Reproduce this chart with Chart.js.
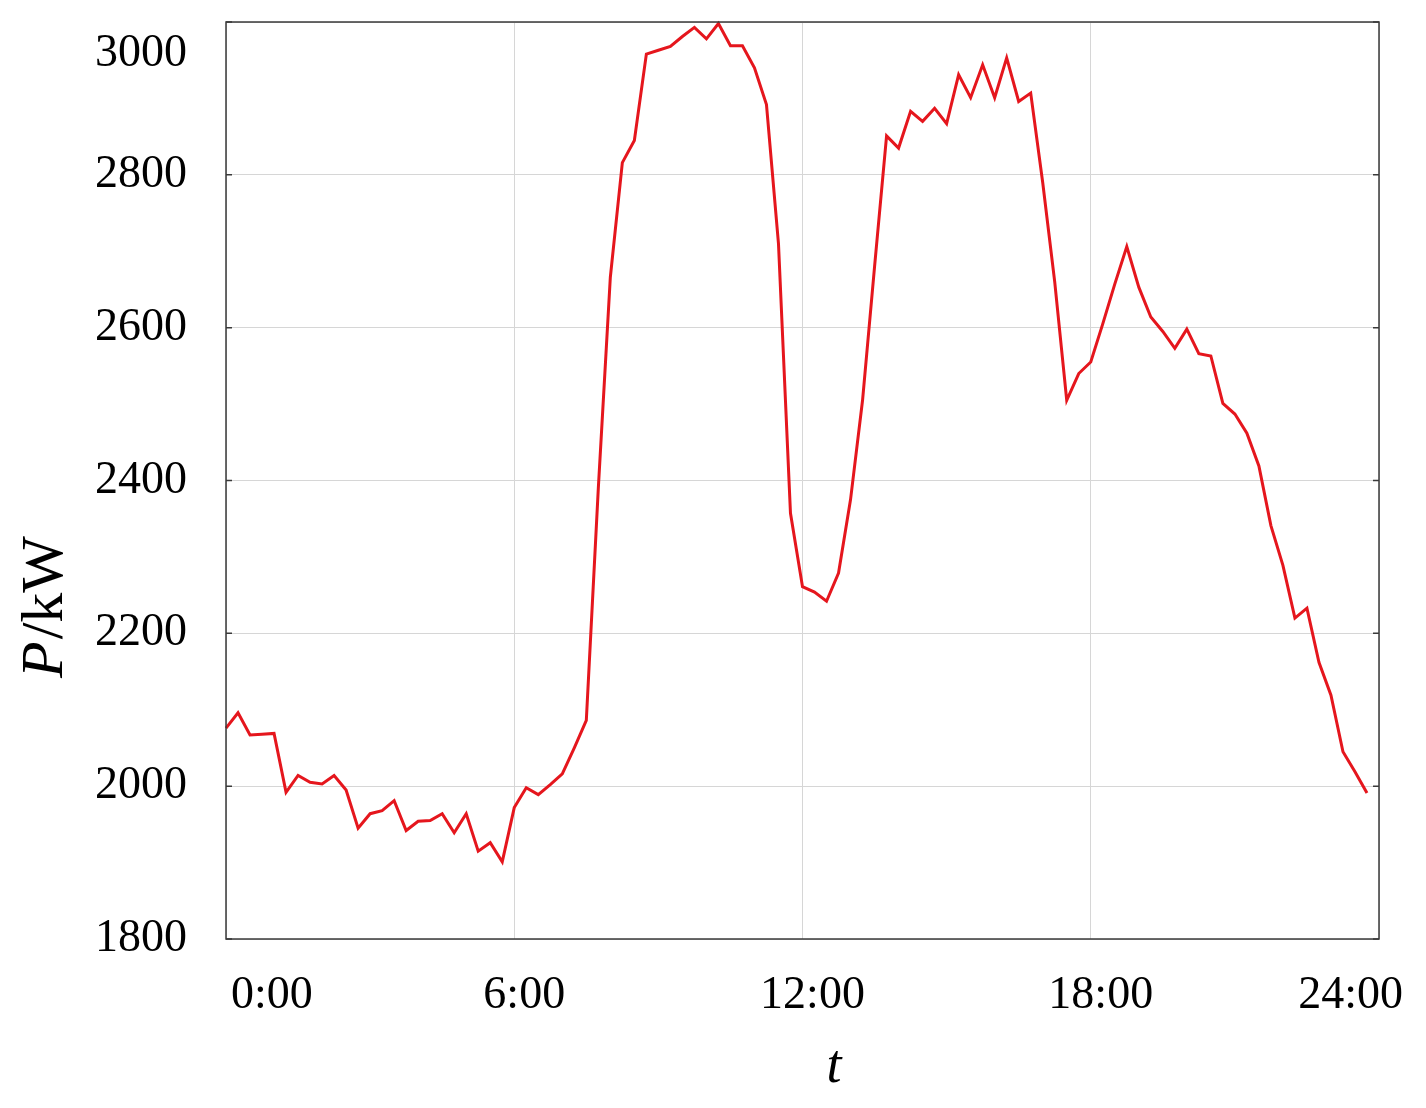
<!DOCTYPE html>
<html>
<head>
<meta charset="utf-8">
<script src="https://cdn.jsdelivr.net/npm/chart.js@4.4.1/dist/chart.umd.min.js"></script>
<style>
  html, body { margin: 0; padding: 0; background: #ffffff; }
  #wrap { position: relative; width: 1426px; height: 1108px; }
</style>
</head>
<body>
<div id="wrap"><canvas id="c"></canvas></div>
<script>
// ---- data (15-minute load samples, kW) ----
const loadKW = [
  2076, 2096, 2067, 2068, 2069, 1992, 2014, 2005, 2003, 2014, 1995, 1945,
  1964, 1968, 1981, 1942, 1954, 1955, 1964, 1939, 1964, 1915, 1926, 1901,
  1972, 1998, 1989, 2002, 2016, 2050, 2086, 2390, 2666, 2816, 2845, 2958,
  2963, 2968, 2981, 2993, 2978, 2998, 2969, 2969, 2940, 2892, 2710, 2357,
  2261, 2254, 2242, 2279, 2375, 2505, 2680, 2851, 2835, 2883, 2870, 2887,
  2867, 2931, 2901, 2944, 2901, 2953, 2896, 2907, 2790, 2660, 2505, 2540,
  2555, 2605, 2657, 2706, 2653, 2614, 2595, 2573, 2598, 2566, 2563, 2501,
  2487, 2462, 2419, 2341, 2289, 2220, 2233, 2162, 2119, 2045, 2019, 1991
];
// categories: 0:00 ... 24:00 every 15 minutes
const timeLabels = [];
for (let m = 0; m <= 24 * 60; m += 15) {
  timeLabels.push(Math.floor(m / 60) + ':' + String(m % 60).padStart(2, '0'));
}
const xTickLabels = ['0:00', '6:00', '12:00', '18:00', '24:00'];
const yTickValues = [1800, 2000, 2200, 2400, 2600, 2800, 3000];
const xTitle = 't';
const yTitleItalic = 'P';
const yTitleRest = '/kW';

const SERIF = '"Liberation Serif", "DejaVu Serif", serif';

const decorPlugin = {
  id: 'decor',
  afterDraw(chart) {
    const ctx = chart.ctx;
    const a = chart.chartArea;
    const xs = chart.scales.x;
    const ys = chart.scales.y;
    ctx.save();
    // frame
    ctx.strokeStyle = '#3a3a3a';
    ctx.lineWidth = 1.5;
    ctx.strokeRect(a.left, a.top, a.right - a.left, a.bottom - a.top);
    // inner tick marks on left and right axes
    yTickValues.forEach(v => {
      const py = ys.getPixelForValue(v);
      ctx.beginPath();
      ctx.moveTo(a.left, py); ctx.lineTo(a.left + 6, py);
      ctx.moveTo(a.right, py); ctx.lineTo(a.right - 6, py);
      ctx.stroke();
    });
    // y tick labels
    ctx.fillStyle = '#000';
    ctx.font = '46px ' + SERIF;
    ctx.textAlign = 'right';
    ctx.textBaseline = 'middle';
    yTickValues.forEach(v => {
      let py = ys.getPixelForValue(v);
      if (py < a.top + 32) py = a.top + 32;
      ctx.fillText(String(v), a.left - 39, py);
    });
    // x tick labels
    ctx.font = '46px ' + SERIF;
    ctx.textAlign = 'left';
    ctx.textBaseline = 'middle';
    xTickLabels.forEach(lbl => {
      const px = xs.getPixelForValue(timeLabels.indexOf(lbl));
      const w = ctx.measureText(lbl).width;
      let left = px + 10 - w / 2;
      if (left < a.left + 5) left = a.left + 5;
      if (left + w > a.right + 24) left = a.right + 24 - w;
      ctx.fillText(lbl, left, 996);
    });
    // x title
    ctx.font = 'italic 54px ' + SERIF;
    ctx.textAlign = 'center';
    ctx.textBaseline = 'alphabetic';
    ctx.fillText(xTitle, 834, 1082);
    // y title (rotated)
    ctx.translate(62, 608);
    ctx.rotate(-Math.PI / 2);
    ctx.font = 'italic 60px ' + SERIF;
    const w1 = ctx.measureText(yTitleItalic).width;
    ctx.font = '60px ' + SERIF;
    const w2 = ctx.measureText(yTitleRest).width;
    const start = -(w1 + w2) / 2;
    ctx.textAlign = 'left';
    ctx.font = 'italic 60px ' + SERIF;
    ctx.fillText(yTitleItalic, start, 0);
    ctx.font = '60px ' + SERIF;
    ctx.fillText(yTitleRest, start + w1 + 2, 0);
    ctx.restore();
  }
};

new Chart(document.getElementById('c'), {
  type: 'line',
  data: {
    labels: timeLabels,
    datasets: [{
      label: 'P',
      data: loadKW,
      borderColor: '#e5161d',
      borderWidth: 3,
      pointRadius: 0,
      tension: 0,
      fill: false,
      clip: false
    }]
  },
  options: {
    responsive: true,
    maintainAspectRatio: false,
    animation: false,
    layout: { padding: { left: 226, right: 47, top: 22, bottom: 169 } },
    plugins: { legend: { display: false }, tooltip: { enabled: false } },
    scales: {
      x: {
        type: 'category',
        offset: false,
        border: { display: false },
        grid: {
          drawTicks: false,
          lineWidth: 1,
          color: c => (c.index % 24 === 0 ? '#d6d6d6' : 'rgba(0,0,0,0)')
        },
        ticks: { display: false, autoSkip: false }
      },
      y: {
        min: 1800,
        max: 3000,
        border: { display: false },
        grid: { drawTicks: false, color: '#d6d6d6', lineWidth: 1 },
        ticks: { display: false, stepSize: 200 }
      }
    }
  },
  plugins: [decorPlugin]
});
</script>
</body>
</html>
